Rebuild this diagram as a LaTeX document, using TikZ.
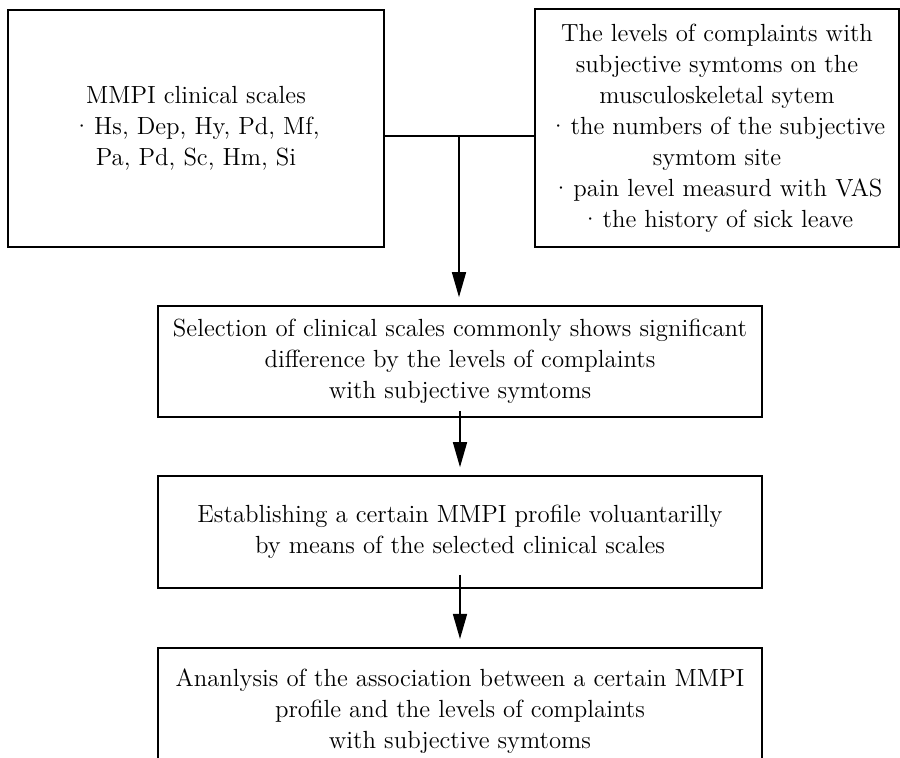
\documentclass[tikz,border=0pt]{standalone}
\usetikzlibrary{arrows.meta}
\def\bul{\textperiodcentered\hspace{0.12em}}
\colorlet{box edge}{black}
\tikzset{
  stage/.style={draw=box edge, line width=0.8pt, align=center, inner sep=0pt,
    font=\fontsize{12.4}{15.5}\selectfont},
  link/.style={draw=box edge, line width=0.75pt},
  flow/.style={link, -{Triangle[length=12.5pt,width=7pt]}, shorten >=4pt}
}

\begin{document}
\begin{tikzpicture}[x=0.5pt, y=-0.5pt]
  \useasboundingbox (0,0) rectangle (900,758);

  \node[stage, minimum width=188pt, minimum height=118.5pt] (scales) at (196,128.5)
    {MMPI clinical scales\\ \bul Hs, Dep, Hy, Pd, Mf,\\ Pa, Pd, Sc, Hm, Si};
  \node[stage, minimum width=182pt, minimum height=119pt] (complaints) at (717,128)
    {The levels of complaints with\\ subjective symtoms on the\\ musculoskeletal sytem\\
     \bul the numbers of the subjective\\ symtom site\\ \bul pain level measurd with VAS\\
     \bul the history of sick leave};

  \node[stage, minimum width=302pt, minimum height=55.5pt] (select) at (460,361.5)
    {Selection of clinical scales commonly shows significant\\ difference by the levels of complaints\\ with subjective symtoms};
  \node[stage, minimum width=302pt, minimum height=56pt] (profile) at (460,532)
    {Establishing a certain MMPI profile voluantarilly\\ by means of the selected clinical scales};
  % bottom edge falls below the page
  \node[stage, anchor=north, minimum width=302pt, inner ysep=10.5pt, text depth=45pt] (assoc) at (460,647)
    {Ananlysis of the association between a certain MMPI\\ profile and the levels of complaints\\ with subjective symtoms};

  \coordinate (join) at (459,136);
  \draw[link] (scales.east |- join) -- (complaints.west |- join);
  \draw[flow] (join) -- (join |- select.north);
  \draw[flow, shorten <=-3.5pt] (select.south) -- (profile.north);
  \draw[flow, shorten <=-7pt] (profile.south) -- (assoc.north);
\end{tikzpicture}
\end{document}
